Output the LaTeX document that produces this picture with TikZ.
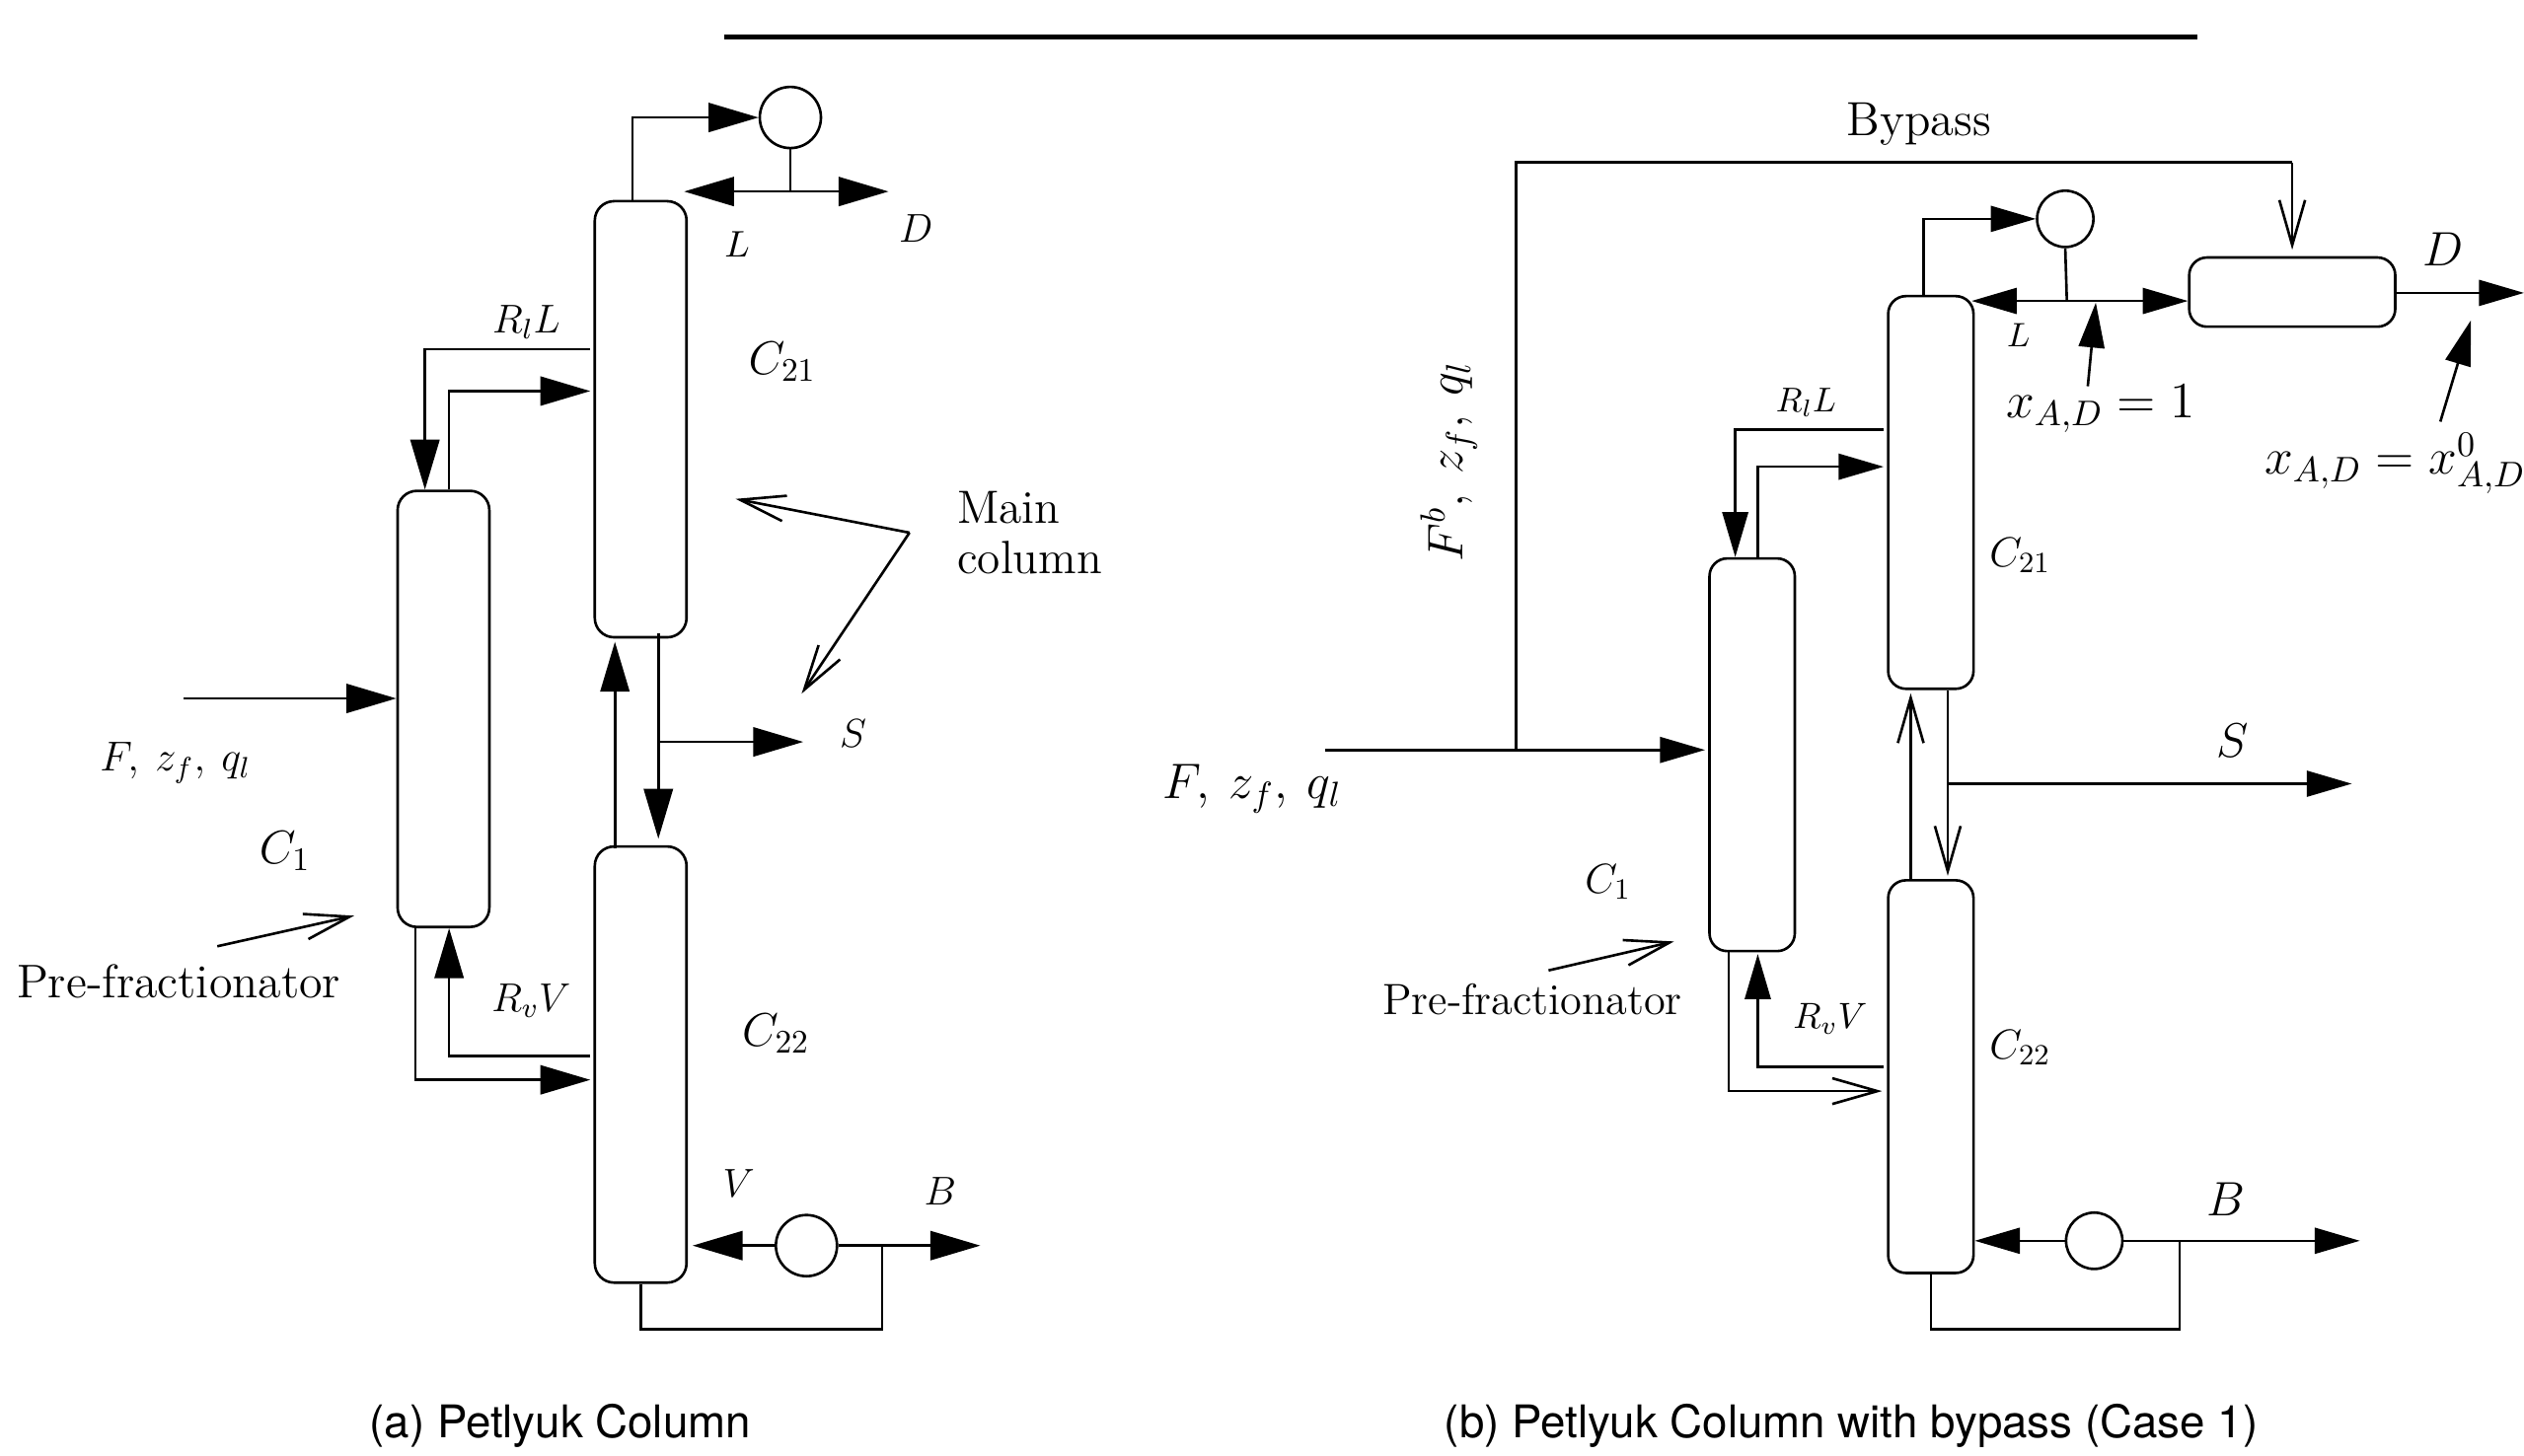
\documentclass[tikz,border=0pt]{standalone}
\usepackage{fix-cm}
\usepackage{fontspec}
\usetikzlibrary{arrows.meta}
\newfontfamily\capfont{TeX Gyre Heros}
\tikzset{
  columna/.style={draw,rounded corners=6pt,inner sep=0pt,minimum width=28.5pt,minimum height=135.5pt},
  columnab/.style={draw,rounded corners=5.5pt,inner sep=0pt,minimum width=26.5pt,minimum height=122pt},
  circulo/.style={draw,circle,inner sep=0pt,minimum size=19pt},
  llena/.style={-{Triangle[length=15.5pt,width=9pt]}},
  llenab/.style={-{Triangle[length=14pt,width=8pt]}},
  abierta/.style={-{Straight Barb[length=14pt,width=8pt]}},
  texto/.style={inner sep=0pt,font=\fontsize{#1}{#1}\selectfont},
  pie/.style={inner sep=0pt,font=\capfont\fontsize{14}{17}\selectfont}
}
\begin{document}
\begin{tikzpicture}[x=0.5pt,y=-0.5pt,line width=0.8pt]
    \useasboundingbox (0,0) rectangle (1568,904.15);

    % Paso 1: Raya superior
    \coordinate (rayaA) at (450,23);
    \coordinate (rayaB) at (1365,23);
    \draw[line width=1.4pt] (rayaA) -- (rayaB);

    % Paso 2: Columnas de la figura a)
    \node[columna] (aC1) at (275.5,440.5) {};
    \node[columna] (aC21) at (398,260.5) {};
    \node[columna] (aC22) at (398,661.5) {};
    \node[circulo] (aCond) at (491,73) {};
    \node[circulo] (aReb) at (501,774) {};

    % Paso 3: Puntos libres de la figura a)
    \coordinate (aJ) at (491,119);
    \coordinate (aLfin) at (425,119);
    \coordinate (aDfin) at (552,119);
    \coordinate (aFini) at (114,434);
    \coordinate (aSini) at (410,461);
    \coordinate (aSfin) at (499,461);
    \coordinate (aBj) at (548,774);
    \coordinate (aBfin) at (609,774);
    \coordinate (aMj) at (565,331);
    \coordinate (aMa) at (457,310);
    \coordinate (aMb) at (498,431);
    \coordinate (aPini) at (135,588);
    \coordinate (aPfin) at (220,569);

    % Paso 4: Corrientes de la figura a)
    \draw[llena] ([xshift=-2.5pt]aC21.north) |- (aCond.west);
    \draw (aCond.south) -- (aJ);
    \draw[llena] (aJ) -- (aLfin);
    \draw[llena] (aJ) -- (aDfin);
    \draw[llena] ([xshift=-1pt,yshift=21.75pt]aC21.west) -| ([xshift=-5.75pt]aC1.north);
    \draw[llena] ([xshift=1.75pt]aC1.north) |- ([xshift=-1pt,yshift=8.75pt]aC21.west);
    \draw[llena] (aFini) -- (aC1.west |- aFini);
    \draw[llena] ([xshift=-8pt,yshift=-1pt]aC22.north) -- ([xshift=-8pt,yshift=-1pt]aC21.south);
    \draw[llena] ([xshift=5.5pt,yshift=1.5pt]aC21.south) -- ([xshift=5.5pt,yshift=2pt]aC22.north);
    \draw[llena] (aSini) -- (aSfin);
    \draw[llena] ([xshift=-8.75pt]aC1.south) |- ([xshift=-1pt,yshift=-4.75pt]aC22.west);
    \draw[llena] ([xshift=-1pt,yshift=2.75pt]aC22.west) -| ([xshift=1.75pt]aC1.south);
    \draw[llena] (aReb.west) -- ([xshift=1.5pt]aC22.east |- aReb.west);
    \draw[llena] (aReb.east) -- (aBfin);
    \draw (aBj) |- ([yshift=-14pt]aC22.south) -- (aC22.south);

    % Paso 5: Flechas abiertas que senalan
    \draw[abierta] (aMj) -- (aMa);
    \draw[abierta] (aMj) -- (aMb);
    \draw[abierta] (aPini) -- (aPfin);

    % Paso 6: Leyendas de la figura a)
    \node[texto=11.5] (aL) at (458,152) {$L$};
    \node[texto=12.5] (aD) at (569,142) {$D$};
    \node[texto=12.5] (aRl) at (327,200) {$R_lL$};
    \node[texto=14.6] (aT21) at (486,225) {$C_{21}$};
    \node[texto=14.5,anchor=west,align=left] (aMain) at (594,331) {Main\\[1.2pt]column};
    \node[texto=12.5] (aS) at (530,456) {$S$};
    \node[texto=13] (aF) at (109,474) {$F,\:z_f,\:q_l$};
    \node[texto=14.6] (aT1) at (177,529) {$C_1$};
    \node[texto=14.7] (aPre) at (111,610) {Pre-fractionator};
    \node[texto=12.5] (aRv) at (330,622) {$R_vV$};
    \node[texto=14.6] (aT22) at (482,642) {$C_{22}$};
    \node[texto=12.5] (aV) at (459,735) {$V$};
    \node[texto=12.5] (aB) at (584,740) {$B$};
    \node[pie] (aPie) at (348,886) {(a) Petlyuk Column};

    % Paso 7: Columnas de la figura b)
    \node[columnab] (bC1) at (1088.5,469) {};
    \node[columnab] (bC21) at (1199.5,306) {};
    \node[columnab] (bC22) at (1199.5,669) {};
    \node[draw,rounded corners=5.5pt,inner sep=0pt,minimum width=64pt,minimum height=21.5pt] (bDrum) at (1424,181.5) {};
    \node[circulo,minimum size=17.5pt] (bCond) at (1283,136) {};
    \node[circulo,minimum size=17.5pt] (bReb) at (1301,771) {};

    % Paso 8: Puntos libres de la figura b)
    \coordinate (bJ) at (1284,187);
    \coordinate (bDfin) at (1568,182);
    \coordinate (bFini) at (823,466);
    \coordinate (bBj) at (942,466);
    \coordinate (bBt) at (1424,101);
    \coordinate (bSini) at (1210,487);
    \coordinate (bSfin) at (1461,487);
    \coordinate (bRj) at (1354,771);
    \coordinate (bBfin) at (1466,771);
    \coordinate (bXa) at (1297,240);
    \coordinate (bXb) at (1302,188);
    \coordinate (bYa) at (1516,262);
    \coordinate (bYb) at (1535,199);
    \coordinate (bPini) at (962,603);
    \coordinate (bPfin) at (1040,585);

    % Paso 9: Corrientes de la figura b)
    \draw[llenab] ([xshift=-2.25pt]bC21.north) |- (bCond.west);
    \draw (bCond.south) -- (bJ);
    \draw[llenab] (bJ) -- ([xshift=-1pt]bC21.east |- bJ);
    \draw[llenab] (bJ) -- (bDrum.west |- bJ);
    \draw[llenab] (bDrum.east |- bDfin) -- (bDfin);
    \draw (bBj) |- (bBt);
    \draw[abierta] (bBt) -- ([yshift=2pt]bDrum.north);
    \draw[llenab] (bFini) -- ([xshift=-1pt]bC1.west |- bFini);
    \draw[llenab] ([xshift=-1pt,yshift=19.5pt]bC21.west) -| ([xshift=-5.25pt]bC1.north);
    \draw[llenab] ([xshift=1.75pt]bC1.north) |- ([xshift=-1pt,yshift=8pt]bC21.west);
    \draw[abierta] ([xshift=-6.25pt]bC22.north) -- ([xshift=-6.25pt,yshift=-1pt]bC21.south);
    \draw[abierta] ([xshift=5.25pt]bC21.south) -- ([xshift=5.25pt,yshift=1pt]bC22.north);
    \draw[llenab] (bSini) -- (bSfin);
    \draw[abierta] ([xshift=-7.25pt]bC1.south) |- ([xshift=-1.5pt,yshift=-4.5pt]bC22.west);
    \draw[llenab] ([xshift=-1pt,yshift=3pt]bC22.west) -| ([xshift=1.75pt,yshift=-0.5pt]bC1.south);
    \draw[llenab] (bReb.west) -- (bC22.east |- bReb.west);
    \draw[llenab] (bReb.east) -- (bBfin);
    \draw (bRj) |- ([yshift=-17pt]bC22.south) -- (bC22.south);
    \draw[llenab] (bXa) -- (bXb);
    \draw[llenab] (bYa) -- (bYb);
    \draw[abierta] (bPini) -- (bPfin);

    % Paso 10: Leyendas de la figura b)
    \node[texto=14.9] (bBy) at (1192,77) {Bypass};
    \node[texto=15] (bD) at (1518,155) {$D$};
    \node[texto=10.5] (bL) at (1254,208) {$L$};
    \node[texto=15.8] (bX) at (1305,254) {$x_{A,D}=1$};
    \node[texto=15.8] (bY) at (1488,288) {$x_{A,D}=x^0_{A,D}$};
    \node[texto=10.7] (bRl) at (1122,250) {$R_lL$};
    \node[texto=13] (bT21) at (1255,345) {$C_{21}$};
    \node[texto=15.5,rotate=90] (bFb) at (900,287) {$F^b,\:z_f,\:q_l$};
    \node[texto=15.5] (bF) at (778,490) {$F,\:z_f,\:q_l$};
    \node[texto=15] (bS) at (1387,460) {$S$};
    \node[texto=13] (bT1) at (999,548) {$C_1$};
    \node[texto=13.6] (bPre) at (952,621) {Pre-fractionator};
    \node[texto=11.3] (bRv) at (1137,633) {$R_vV$};
    \node[texto=13] (bT22) at (1255,651) {$C_{22}$};
    \node[texto=15] (bB) at (1383,745) {$B$};
    \node[pie] (bPie) at (1150,886) {(b) Petlyuk Column with bypass (Case 1)};
\end{tikzpicture}
\end{document}
